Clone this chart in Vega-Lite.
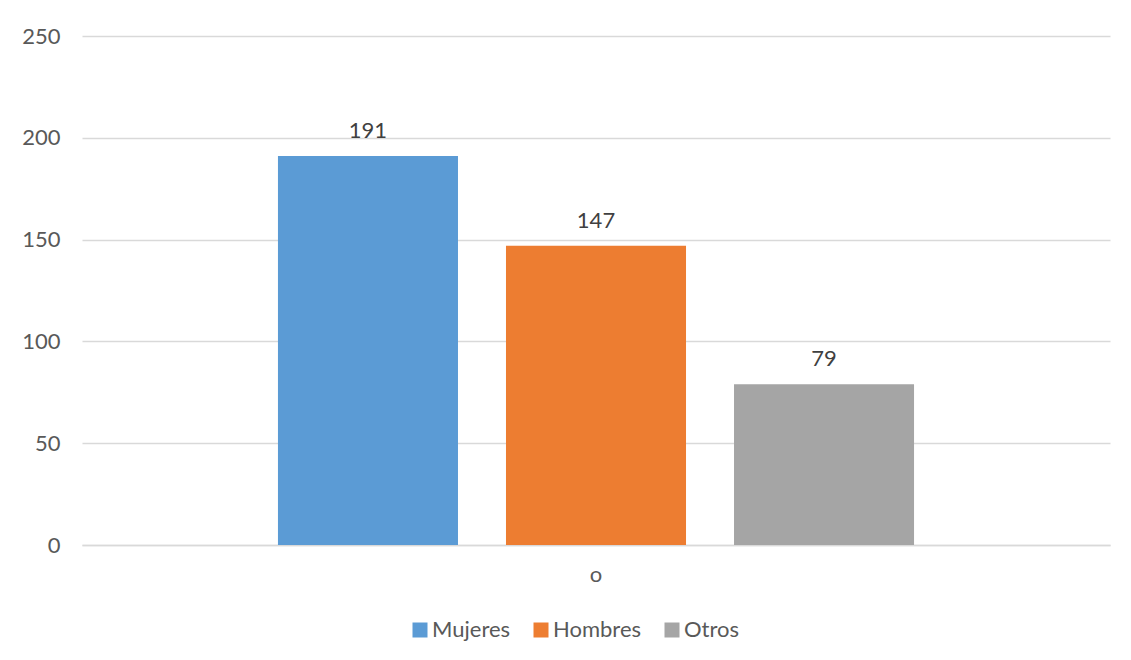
{
  "$schema": "https://vega.github.io/schema/vega-lite/v6.json",
  "autosize": {"type": "none"},
  "width": 1028,
  "height": 509,
  "padding": {"left": 82, "top": 36, "right": 21, "bottom": 115},
  "background": "white",
  "config": {
    "view": {"stroke": null},
    "font": "Lato",
    "axis": {"labelFont": "Lato", "labelColor": "#595959", "labelFontSize": 22},
    "legend": {"labelFont": "Lato", "labelColor": "#595959", "labelFontSize": 22}
  },
  "data": {
    "values": [
      {"cat": "o", "serie": "Mujeres", "valor": 191},
      {"cat": "o", "serie": "Hombres", "valor": 147},
      {"cat": "o", "serie": "Otros", "valor": 79}
    ]
  },
  "encoding": {
    "x": {
      "field": "cat", "type": "nominal",
      "scale": {"paddingInner": 0, "paddingOuter": 0.2515},
      "axis": {"title": null, "labelAngle": 0, "ticks": false, "domainColor": "#d9d9d9", "domainWidth": 1.5, "labelPadding": 19}
    },
    "xOffset": {
      "field": "serie", "type": "nominal",
      "sort": ["Mujeres", "Hombres", "Otros"],
      "scale": {"paddingInner": 0.2105, "paddingOuter": 0.105}
    },
    "y": {
      "field": "valor", "type": "quantitative",
      "scale": {"domain": [0, 250]},
      "axis": {"title": null, "values": [0, 50, 100, 150, 200, 250], "domain": false, "ticks": false, "gridColor": "#d9d9d9", "gridWidth": 1.5, "labelPadding": 22}
    }
  },
  "layer": [
    {
      "mark": {"type": "bar"},
      "encoding": {
        "color": {
          "field": "serie", "type": "nominal",
          "sort": ["Mujeres", "Hombres", "Otros"],
          "scale": {"domain": ["Mujeres", "Hombres", "Otros"], "range": ["#5B9BD5", "#ED7D31", "#A5A5A5"]},
          "legend": {
            "title": null, "orient": "none", "direction": "horizontal",
            "legendX": 327, "legendY": 583,
            "symbolType": "square", "symbolSize": 225, "symbolStrokeWidth": 0,
            "columnPadding": 19, "labelOffset": 1
          }
        }
      }
    },
    {
      "mark": {"type": "text", "dy": -25, "baseline": "middle", "fontSize": 22, "color": "#404040", "font": "Lato"},
      "encoding": {"text": {"field": "valor", "type": "quantitative"}}
    }
  ]
}
